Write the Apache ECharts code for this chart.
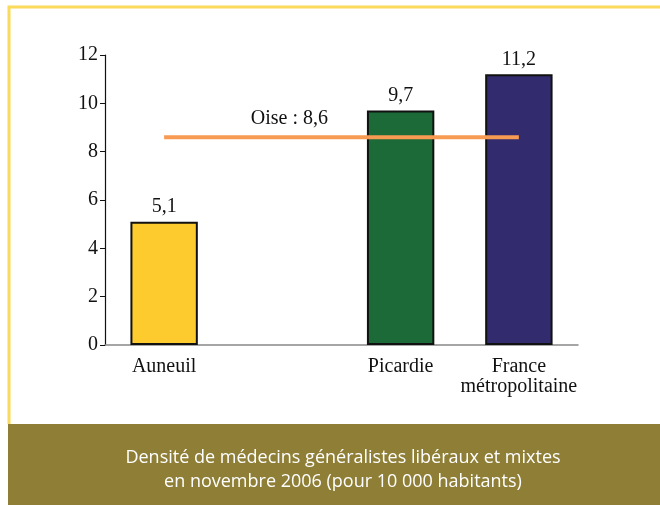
<!DOCTYPE html>
<html>
<head>
<meta charset="utf-8">
<script src="https://cdn.jsdelivr.net/npm/echarts@6/dist/echarts.min.js"></script>
<style>
  html, body { margin: 0; padding: 0; background: #fff; }
  #chart { width: 660px; height: 505px; }
</style>
</head>
<body>
<div id="chart"></div>
<script>
// data
const categories = ['Auneuil', '', 'Picardie', 'France\nmétropolitaine'];
const densite = [5.1, null, 9.7, 11.2];
const barColors = ['#FECB2F', '#FFFFFF', '#1B6A37', '#322B6E'];
const oiseValue = 8.6;
const oiseLabel = 'Oise : 8,6';
const titleLines = ['Densité de médecins généralistes libéraux et mixtes', 'en novembre 2006 (pour 10 000 habitants)'];

const serif = '"Liberation Serif", "DejaVu Serif", serif';
const fmt = v => String(v).replace('.', ',');

const chart = echarts.init(document.getElementById('chart'), null, { renderer: 'canvas' });

const option = {
    backgroundColor: '#fff',
    animation: false,
    graphic: [
        // yellow frame
        { type: 'polyline', shape: { points: [[9, 424], [9, 7], [662, 7]] },
          style: { stroke: '#F9DA5B', lineWidth: 3, fill: null } },
        // olive band
        { type: 'rect', shape: { x: 8, y: 424, width: 660, height: 90 },
          style: { fill: '#8E7E36' } },
        { type: 'text', x: 343, y: 458,
          style: { text: titleLines[0], fill: '#fff', font: '18px "Open Sans", sans-serif',
                   align: 'center', verticalAlign: 'middle' } },
        { type: 'text', x: 343, y: 482,
          style: { text: titleLines[1], fill: '#fff', font: '18px "Open Sans", sans-serif',
                   align: 'center', verticalAlign: 'middle' } }
    ],
    grid: { left: 105, right: 82, top: 55, bottom: 160 },
    xAxis: {
        type: 'category',
        data: categories,
        axisLine: { lineStyle: { color: '#888', width: 1.5 } },
        axisTick: { show: false },
        axisLabel: { color: '#111', fontFamily: serif, fontSize: 20, margin: 12, lineHeight: 20, interval: 0 }
    },
    yAxis: {
        type: 'value',
        min: 0, max: 12, interval: 2,
        splitLine: { show: false },
        axisLine: { show: true, lineStyle: { color: '#111', width: 1.2 } },
        axisTick: { show: true, length: 5, lineStyle: { color: '#111' } },
        axisLabel: { color: '#111', fontFamily: serif, fontSize: 20, margin: 7 }
    },
    series: [
        {
            type: 'bar',
            barWidth: '57%',
            data: densite.map((v, i) => ({ value: v, itemStyle: { color: barColors[i] } })),
            itemStyle: { borderColor: '#111', borderWidth: 2 },
            label: {
                show: true, position: 'top', distance: 5,
                color: '#111', fontFamily: serif, fontSize: 20,
                formatter: p => fmt(p.value)
            }
        },
        {
            type: 'line',
            data: categories.map((c, i) => i === 1
                ? { value: oiseValue, label: { show: true } }
                : oiseValue),
            symbol: 'circle',
            symbolSize: 0,
            showSymbol: true,
            lineStyle: { color: '#F79A52', width: 4 },
            label: {
                show: false, position: 'top', distance: 8, offset: [7, 0],
                color: '#111', fontFamily: serif, fontSize: 20,
                formatter: () => oiseLabel
            },
            z: 5
        }
    ]
};

chart.setOption(option);
window.addEventListener('resize', () => chart.resize());
</script>
</body>
</html>
